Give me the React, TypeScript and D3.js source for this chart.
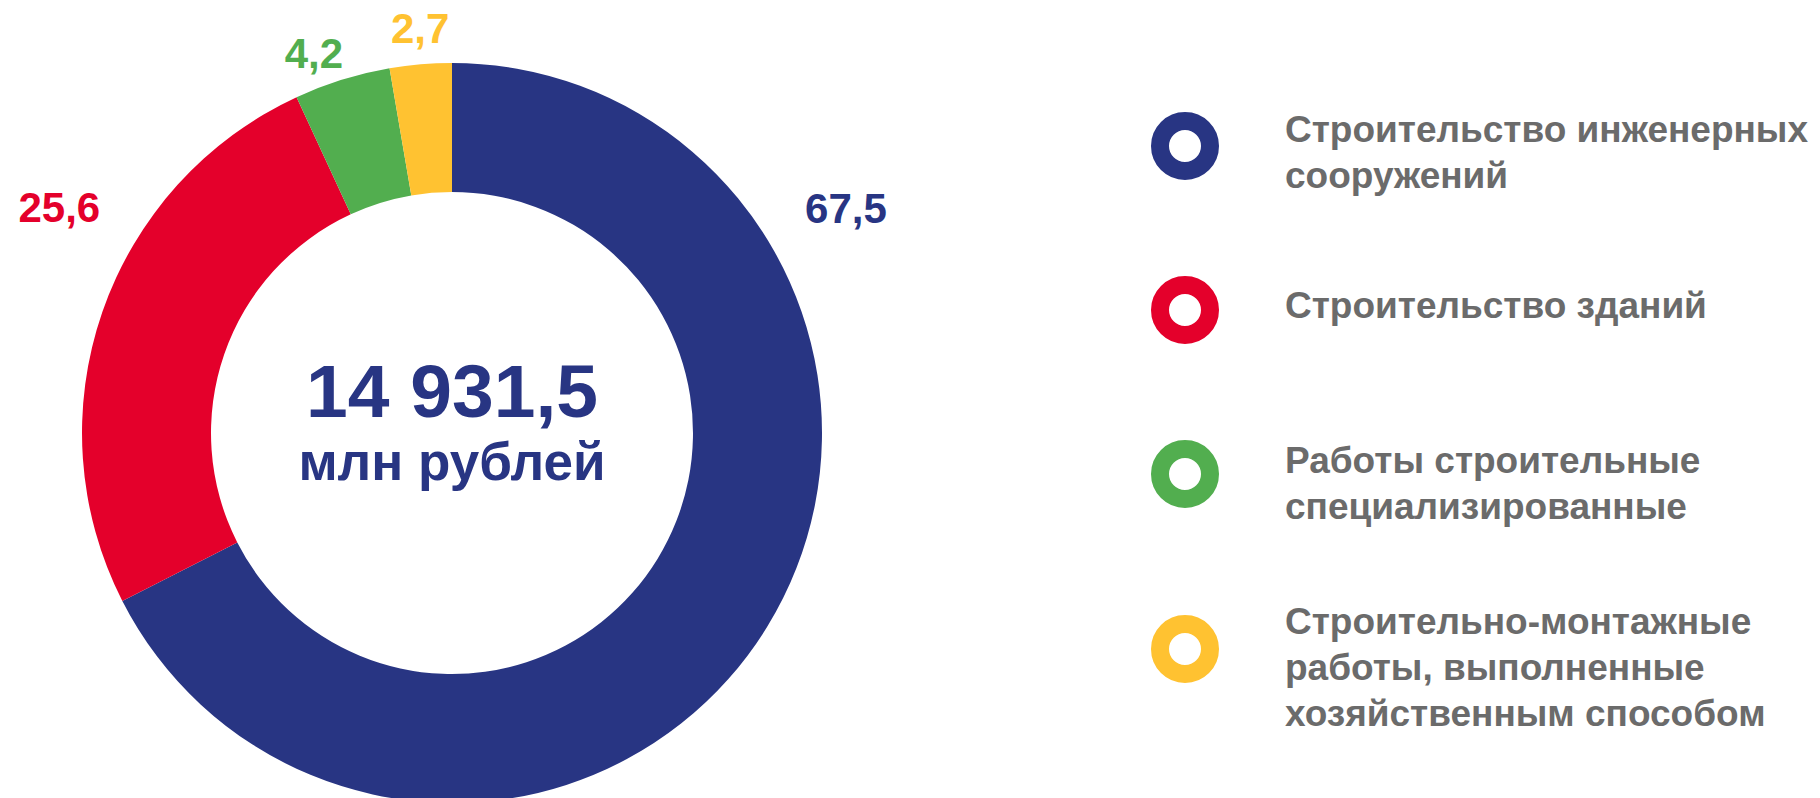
import { useEffect, useRef } from "react";
import * as d3 from "d3";

const width = 1820;
const height = 798;

// data
const categories = [
  "Строительство инженерных сооружений",
  "Строительство зданий",
  "Работы строительные специализированные",
  "Строительно-монтажные работы, выполненные хозяйственным способом",
];
const shares = [67.5, 25.6, 4.2, 2.7];
const colors = ["#283583", "#E4002B", "#52AE4F", "#FFC231"];
const legendLines = [
  ["Строительство инженерных", "сооружений"],
  ["Строительство зданий"],
  ["Работы строительные", "специализированные"],
  ["Строительно-монтажные", "работы, выполненные", "хозяйственным способом"],
];
const totalLabel = "14 931,5";
const unitLabel = "млн рублей";

// layout
const cx = 452;
const cy = 433;
const outerR = 370;
const innerR = 241;
// label placement (degrees clockwise from 12 o'clock, radius from center)
const labelAngle = [60.2, -60.1, -20.0, -4.5];
const labelRadius = [454, 453, 404, 406];
const legendX = 1185;
const legendY = [146, 310, 474, 649];
const textX = 1285;
const textY = [142, 318, 473, 634];
const lineH = 46;
const fmt = (v: number) => v.toFixed(1).replace(".", ",");

const App = () => {
  const svgRef = useRef<SVGSVGElement>(null);

  useEffect(() => {
    const svg = d3.select(svgRef.current);
    svg.selectAll("*").remove();
    const font = "'Liberation Sans', Arial, sans-serif";

    const pie = d3.pie<number>().sort(null).value(d => d);
    const arc = d3.arc<d3.PieArcDatum<number>>().innerRadius(innerR).outerRadius(outerR);

    const g = svg.append("g").attr("transform", `translate(${cx},${cy})`);
    g.selectAll("path.slice")
      .data(pie(shares))
      .join("path")
      .attr("class", "slice")
      .attr("d", arc)
      .attr("fill", (_, i) => colors[i]);

    // slice value labels
    g.selectAll("text.val")
      .data(shares)
      .join("text")
      .attr("class", "val")
      .attr("x", (_, i) => labelRadius[i] * Math.sin((labelAngle[i] * Math.PI) / 180))
      .attr("y", (_, i) => -labelRadius[i] * Math.cos((labelAngle[i] * Math.PI) / 180))
      .attr("dy", "0.36em")
      .attr("text-anchor", "middle")
      .attr("font-family", font)
      .attr("font-weight", "bold")
      .attr("font-size", 42)
      .attr("fill", (_, i) => colors[i])
      .text(d => fmt(d));

    // center total
    g.append("text")
      .attr("y", -16)
      .attr("text-anchor", "middle")
      .attr("font-family", font)
      .attr("font-weight", "bold")
      .attr("font-size", 75)
      .attr("fill", colors[0])
      .text(totalLabel);
    g.append("text")
      .attr("y", 47)
      .attr("text-anchor", "middle")
      .attr("font-family", font)
      .attr("font-weight", "bold")
      .attr("font-size", 53)
      .attr("fill", colors[0])
      .text(unitLabel);

    // legend
    const lg = svg.selectAll("g.legend")
      .data(categories)
      .join("g")
      .attr("class", "legend");
    lg.append("circle")
      .attr("cx", legendX)
      .attr("cy", (_, i) => legendY[i])
      .attr("r", 25)
      .attr("fill", "none")
      .attr("stroke", (_, i) => colors[i])
      .attr("stroke-width", 18);
    lg.append("text")
      .attr("font-family", font)
      .attr("font-weight", "bold")
      .attr("font-size", 37)
      .attr("fill", "#6B6B6B")
      .each(function (_, i) {
        d3.select(this)
          .selectAll("tspan")
          .data(legendLines[i])
          .join("tspan")
          .attr("x", textX)
          .attr("y", (_, j) => textY[i] + j * lineH)
          .text(d => d);
      });
  }, []);

  return (
    <svg
      ref={svgRef}
      width={width}
      height={height}
      style={{ position: "absolute", left: 0, top: 0, background: "#fff" }}
    />
  );
};

export default App;
